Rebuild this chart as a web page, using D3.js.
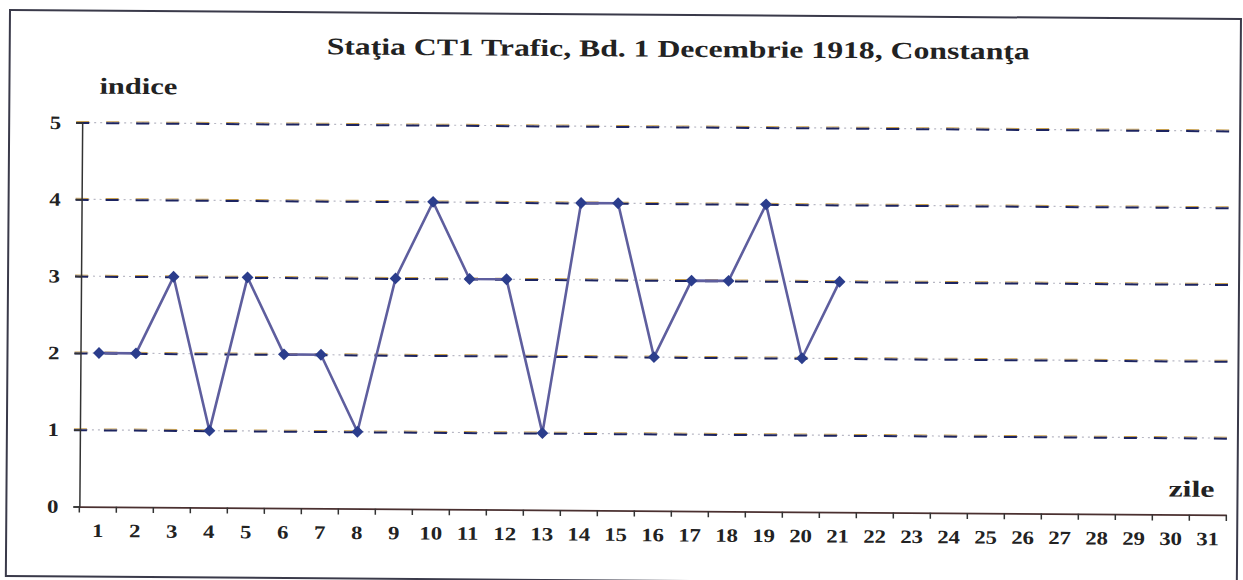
<!DOCTYPE html>
<html>
<head>
<meta charset="utf-8">
<style>
  body { margin: 0; background: #fff; }
  svg text { font-family: "Liberation Serif", "DejaVu Serif", serif; font-weight: bold; fill: #222; }
</style>
</head>
<body>
<div class="chart"></div>
<script src="https://d3js.org/d3.v7.min.js"></script>
<script>
  // zilele lunii (1..31) si indicele pe zile (doar 1..21 masurate)
  const zile = d3.range(1, 32);
  const indice = [2, 2, 3, 1, 3, 2, 2, 1, 3, 4, 3, 3, 1, 4, 4, 2, 3, 3, 4, 2, 3];
  const yTicks = [0, 1, 2, 3, 4, 5];
  const titlu = 'Staţia CT1 Trafic, Bd. 1 Decembrie 1918, Constanţa';

  const width = 1243, height = 580;
  const svg = d3.select('.chart').append('svg')
    .attr('width', width).attr('height', height);

  // the scan is slightly tilted
  const g = svg.append('g').attr('transform', 'rotate(0.42,10,10)');

  g.append('rect')
    .attr('x', 10).attr('y', 10)
    .attr('width', 1231).attr('height', 566)
    .attr('fill', 'none').attr('stroke', '#3a3a4a').attr('stroke-width', 2);

  const x = d3.scaleBand().domain(zile).range([83, 1230]).padding(0);
  const y = d3.scaleLinear().domain([0, 5]).range([506, 122]);

  // gridlines: grey dots + dark dashes
  const grid = g.append('g');
  yTicks.filter(d => d > 0).forEach(d => {
    grid.append('line')
      .attr('x1', 77).attr('x2', 1230).attr('y1', y(d)).attr('y2', y(d))
      .attr('stroke', '#b8b8c4').attr('stroke-width', 1.2)
      .attr('stroke-dasharray', '2,4');
    grid.append('line')
      .attr('x1', 77).attr('x2', 1230).attr('y1', y(d) - 1).attr('y2', y(d) - 1)
      .attr('stroke', '#c8a050').attr('stroke-width', 1)
      .attr('stroke-dasharray', '13,17');
    grid.append('line')
      .attr('x1', 77).attr('x2', 1230).attr('y1', y(d) + 0.5).attr('y2', y(d) + 0.5)
      .attr('stroke', '#1c2460').attr('stroke-width', 2)
      .attr('stroke-dasharray', '13,17');
  });

  // y axis
  const yAxis = d3.axisLeft(y).tickValues(yTicks).tickSize(6).tickPadding(0).tickFormat(d3.format('d'));
  const yG = g.append('g').attr('transform', 'translate(83,0)').call(yAxis);
  yG.select('.domain').attr('stroke', '#333').attr('stroke-width', 1.5);
  yG.selectAll('.tick line').attr('stroke', '#333').attr('stroke-width', 1.5);
  yG.selectAll('.tick text')
    .attr('x', 0)
    .attr('transform', 'translate(-21,0) scale(1.2,1)')
    .style('font-size', '19px').attr('fill', '#222');

  // x axis: labels centred in bands, ticks on band edges
  const xAxis = d3.axisBottom(x).tickSize(0).tickPadding(17);
  const xG = g.append('g').attr('transform', `translate(0,${y(0)})`).call(xAxis);
  xG.select('.domain').attr('stroke', '#4a3030').attr('stroke-width', 1.8);
  xG.selectAll('.tick text')
    .attr('transform', 'scale(1.2,1)')
    .style('font-size', '19px').attr('fill', '#222');
  xG.selectAll('.edge')
    .data(zile.concat([32]))
    .join('line')
    .attr('class', 'edge')
    .attr('x1', d => d === 32 ? x(31) + x.bandwidth() : x(d))
    .attr('x2', d => d === 32 ? x(31) + x.bandwidth() : x(d))
    .attr('y1', 0).attr('y2', 6)
    .attr('stroke', '#333').attr('stroke-width', 1.5);

  // series
  const line = d3.line()
    .x((d, i) => x(zile[i]) + x.bandwidth() / 2)
    .y(d => y(d));
  g.append('path')
    .attr('d', line(indice))
    .attr('fill', 'none')
    .attr('stroke', '#5e5e9e')
    .attr('stroke-width', 2.6);

  g.selectAll('.pt')
    .data(indice)
    .join('path')
    .attr('class', 'pt')
    .attr('d', d3.symbol().type(d3.symbolDiamond2).size(90))
    .attr('transform', (d, i) => `translate(${x(zile[i]) + x.bandwidth() / 2},${y(d)})`)
    .attr('fill', '#2b3d8c');

  // texts
  g.append('text')
    .attr('x', 327).attr('y', 52)
    .attr('textLength', 703).attr('lengthAdjust', 'spacingAndGlyphs')
    .style('font-size', '24px')
    .text(titlu);

  g.append('text')
    .attr('x', 100).attr('y', 93)
    .attr('textLength', 78).attr('lengthAdjust', 'spacingAndGlyphs')
    .style('font-size', '23px')
    .text('indice');

  g.append('text')
    .attr('x', 1172).attr('y', 488)
    .attr('textLength', 46).attr('lengthAdjust', 'spacingAndGlyphs')
    .style('font-size', '23px')
    .text('zile');
</script>
</body>
</html>
